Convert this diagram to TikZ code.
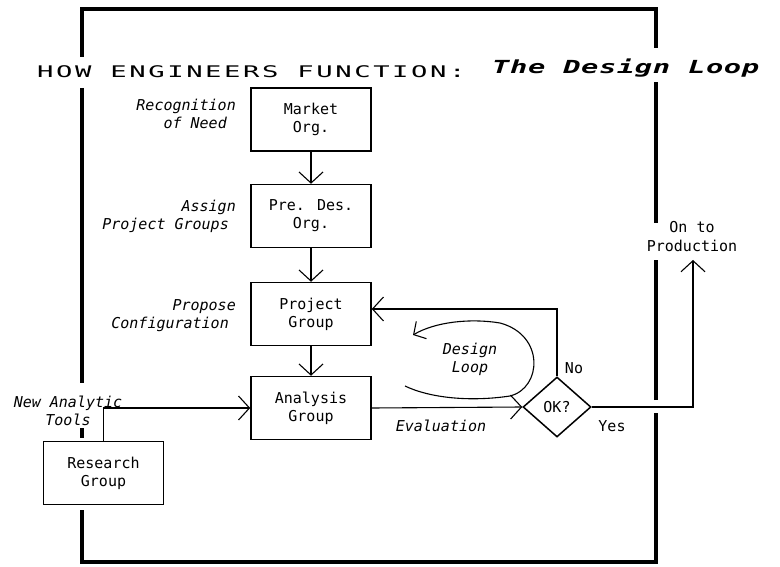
\documentclass[tikz,border=0pt]{standalone}
\usepackage{fontspec}
\setmainfont{DejaVu Sans Mono}
\newfontfamily\titlefontA[LetterSpace=9.5]{DejaVu Sans Mono}
\newfontfamily\titlefontB[LetterSpace=2]{DejaVu Sans Mono}
\usetikzlibrary{arrows.meta,shapes.geometric,calc}
\tikzset{
  box/.style={draw, line width=1.5pt, minimum width=120pt, minimum height=63pt, inner sep=0pt, align=center, font=\fontsize{15}{18}\selectfont},
  lbl/.style={font=\fontsize{15}{18}\selectfont\itshape, inner sep=0pt},
  plain/.style={font=\fontsize{15}{19}\selectfont, inner sep=0pt},
  conn/.style={line width=1.1pt, -{Straight Barb[length=11pt,width=24pt]}},
  frameline/.style={line width=3.4pt}
}
\begin{document}
\begin{tikzpicture}[x=1pt,y=-1pt]
\useasboundingbox (0,0) rectangle (780,567);
% frame
\draw[frameline] (82,57) -- (82,9) -- (656,9) -- (656,48);
\draw[frameline] (82,88) -- (82,383);
\draw[frameline] (82,428) -- (82,438);
\draw[frameline] (82,510) -- (82,562) -- (656,562) -- (656,413);
\draw[frameline] (656,400) -- (656,260);
\draw[frameline] (656,223) -- (656,82);
% title
\node[anchor=base west, inner sep=0pt] (t1) at (37,78) {\titlefontA\fontsize{16}{18}\selectfont\scalebox{1.7}[1]{HOW ENGINEERS FUNCTION:}};
\node[anchor=base west, inner sep=0pt] (t2) at (492,74) {\titlefontB\bfseries\itshape\fontsize{18}{20}\selectfont\scalebox{1.6}[1]{The Design Loop}};
% boxes
\node[box] (market) at (311,119.5) {Market\\Org.};
\node[box] (predes) at (311,216) {Pre. Des.\\Org.};
\node[box] (project) at (311,314) {Project\\Group};
\node[box] (analysis) at (311,408) {Analysis\\Group};
\node[box] (research) at (103.5,473) {Research\\Group};
\node[draw, diamond, line width=1.5pt, minimum width=68pt, minimum height=60pt, inner sep=0pt, font=\fontsize{15}{18}\selectfont] (ok) at (557,407) {OK?};
% labels
\node[lbl, align=right, anchor=east] (rec) at (236,114) {Recognition\\of Need\hspace*{9pt}};
\node[lbl, align=right, anchor=east] (assign) at (236,216) {Assign\\Project Groups\hspace*{7pt}};
\node[lbl, align=right, anchor=east] (propose) at (236,316) {Propose\\Configuration\hspace*{7pt}};
\node[lbl, align=center] (tools) at (68,411) {New Analytic\\Tools};
\node[lbl] (eval) at (441,426) {Evaluation};
\node[lbl, align=center] (dl) at (470,359) {Design\\Loop};
\node[plain] (no) at (574,368) {No};
\node[plain] (yes) at (612,426) {Yes};
\node[plain, align=center] (onto) at (692,237) {On to\\Production};
% connectors
\draw[conn] (market) -- (predes);
\draw[conn] (predes) -- (project);
\draw[conn] (project) -- (analysis);
\draw[conn] (research.north) |- (analysis.west);
\draw[conn] (analysis.east) -- (ok.west);
\draw[conn] (ok.north) |- ([yshift=5pt]project.east);
\coordinate (prod) at (693,260);
\draw[conn] (ok.east) -| (prod);
% design loop
\draw[line width=1.1pt, -{Straight Barb[length=9pt,width=20pt]}] (405,386) .. controls (430,398) and (470,402) .. (510,396) .. controls (542,388) and (545,335) .. (500,323) .. controls (470,318) and (435,322) .. (413,335);
\end{tikzpicture}
\end{document}
